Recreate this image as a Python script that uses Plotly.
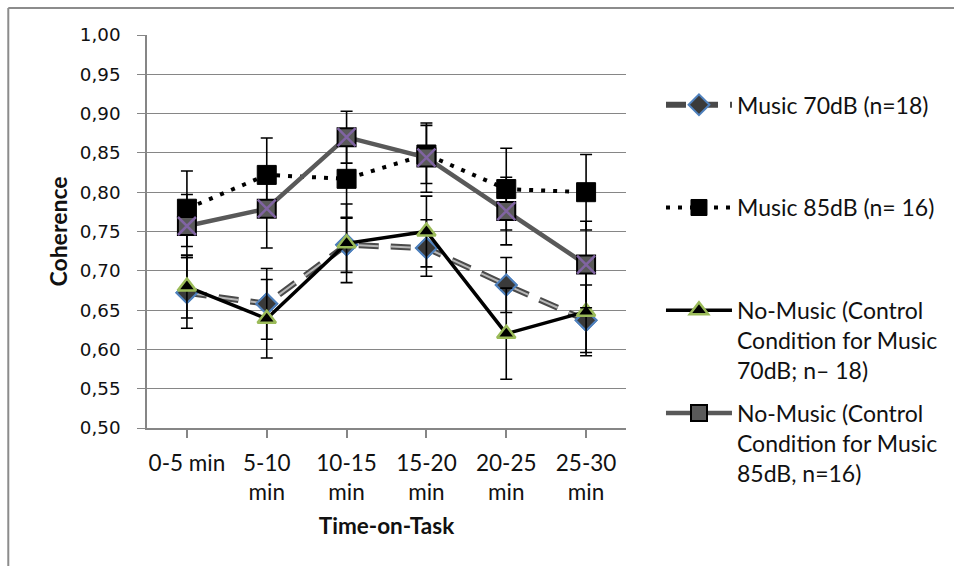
import plotly.graph_objects as go

# Time-on-task windows (category axis) and their tick labels
time_labels = ["0-5 min", "5-10<br>min", "10-15<br>min", "15-20<br>min", "20-25<br>min", "25-30<br>min"]

# Mean coherence and error bar half-widths per condition
music70 = [0.672, 0.658, 0.733, 0.729, 0.682, 0.637]
music70_err = [0.045, 0.045, 0.035, 0.036, 0.035, 0.045]

music85 = [0.779, 0.822, 0.817, 0.848, 0.804, 0.800]
music85_err = [0.048, 0.047, 0.050, 0.037, 0.052, 0.048]

ctrl70 = [0.680, 0.639, 0.735, 0.750, 0.620, 0.648]
ctrl70_err = [0.040, 0.050, 0.050, 0.045, 0.058, 0.052]

ctrl85 = [0.757, 0.779, 0.870, 0.844, 0.776, 0.708]
ctrl85_err = [0.040, 0.050, 0.033, 0.044, 0.043, 0.055]

legend_names = [
    "Music 70dB (n=18)<br>&nbsp;<br>&nbsp;",
    "Music 85dB (n= 16)<br>&nbsp;<br>&nbsp;",
    "No-Music (Control<br>Condition for Music<br>70dB; n\u2013 18)",
    "No-Music (Control<br>Condition for Music<br>85dB, n=16)",
]

x = list(range(len(time_labels)))

PURPLE = "#8064A2"


def err(vals):
    return dict(type="data", array=vals, visible=True, color="black", thickness=1.6, width=6)


fig = go.Figure()

# Music 70 dB: outlined dashed line with diamond markers
diamond = dict(symbol="diamond", size=16, color="#3a3a3a", line=dict(color="#4F81BD", width=2))
fig.add_trace(go.Scatter(
    x=x, y=music70, name=legend_names[0], legendgroup="g1", mode="lines+markers",
    line=dict(color="#4a4a4a", width=6, dash="20px,12px"),
    marker=diamond,
    error_y=err(music70_err),
))
fig.add_trace(go.Scatter(
    x=x, y=music70, mode="lines", showlegend=False, hoverinfo="skip", legendgroup="g1",
    line=dict(color="#b8b8b8", width=2, dash="20px,12px"),
))
fig.add_trace(go.Scatter(
    x=x, y=music70, mode="markers", showlegend=False, hoverinfo="skip", legendgroup="g1",
    marker=diamond,
))

# Music 85 dB: dotted line with black squares
fig.add_trace(go.Scatter(
    x=x, y=music85, name=legend_names[1], legendgroup="g2", mode="lines+markers",
    line=dict(color="black", width=4, dash="4px,8px"),
    marker=dict(symbol="square", size=19, color="black", line=dict(color="black", width=1)),
    error_y=err(music85_err),
))

# Control for 70 dB: solid black line with triangles
fig.add_trace(go.Scatter(
    x=x, y=ctrl70, name=legend_names[2], legendgroup="g3", mode="lines+markers",
    line=dict(color="black", width=3.5),
    marker=dict(symbol="triangle-up", size=16, color="black", line=dict(color="#9BBB59", width=2.5)),
    error_y=err(ctrl70_err),
))

# Control for 85 dB: solid grey line with crossed squares
fig.add_trace(go.Scatter(
    x=x, y=ctrl85, name=legend_names[3], legendgroup="g4", mode="lines+markers",
    line=dict(color="#595959", width=4.5),
    marker=dict(symbol="square", size=18, color="#5a5a5a", line=dict(color="black", width=2)),
    error_y=err(ctrl85_err),
))
fig.add_trace(go.Scatter(
    x=x, y=ctrl85, mode="markers", showlegend=False, hoverinfo="skip", legendgroup="g4",
    marker=dict(symbol="x-thin-open", size=18, color=PURPLE, line=dict(color=PURPLE, width=2.5)),
))

fig.update_layout(
    width=954, height=566,
    margin=dict(l=147, r=327, t=35, b=138),
    paper_bgcolor="white", plot_bgcolor="white",
    separators=",.",
    showlegend=True,
    legend=dict(
        x=1.0708, xanchor="left", y=0.877, yanchor="top",
        font=dict(family="Lato", size=23, color="#111"),
        itemwidth=66, tracegroupgap=10, valign="top",
        maxheight=540,
        bgcolor="rgba(0,0,0,0)", itemclick=False,
    ),
    xaxis=dict(
        range=[-0.5, 5.5], tickmode="array", tickvals=x, ticktext=time_labels,
        showgrid=False, zeroline=False,
        showline=True, linecolor="#868686", linewidth=1.5,
        ticks="outside", ticklen=8, tickcolor="#868686", tickwidth=1.5,
        tickson="boundaries",
        ticklabelstandoff=6,
        tickfont=dict(family="Lato", size=22.5, color="#111"),
        title=dict(text="<b>Time-on-Task</b>", font=dict(family="Lato", size=22.5, color="#111"), standoff=14),
    ),
    yaxis=dict(
        range=[0.5, 1.0], tickmode="linear", tick0=0.5, dtick=0.05, tickformat=".2f",
        showgrid=True, gridcolor="#868686", gridwidth=1, zeroline=False,
        showline=True, linecolor="#868686", linewidth=1.5,
        ticks="outside", ticklen=8, tickcolor="#868686", tickwidth=1,
        ticklabelstandoff=13,
        tickfont=dict(family="DejaVu Sans", size=18.3, color="#111"),
        title=dict(text="<b>Coherence</b>", font=dict(family="Lato", size=23, color="#111"), standoff=6),
    ),
    shapes=[
        dict(type="line", xref="paper", yref="paper", x0=-0.2896, x1=-0.2896, y0=-1, y1=1.0687,
             line=dict(color="#8c8c8c", width=2)),
        dict(type="line", xref="paper", yref="paper", x0=-0.2896, x1=2.0, y0=1.0687, y1=1.0687,
             line=dict(color="#8c8c8c", width=2)),
    ],
)

fig.write_html("out.html")
